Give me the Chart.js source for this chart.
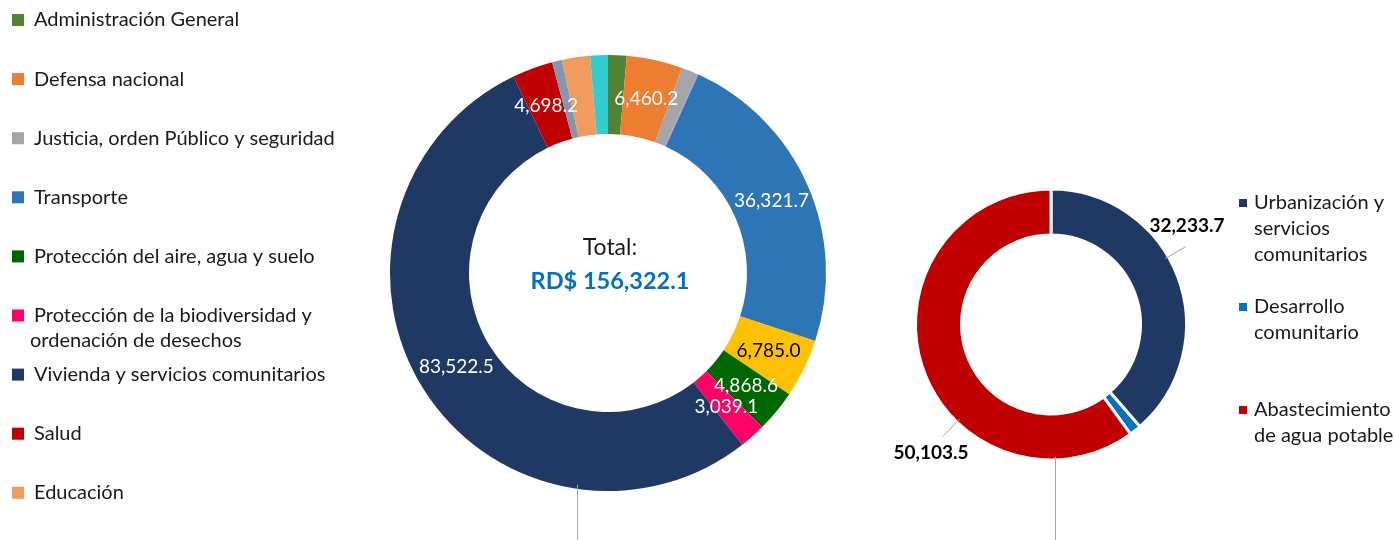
<!DOCTYPE html>
<html>
<head>
<meta charset="utf-8">
<script src="https://cdn.jsdelivr.net/npm/chart.js@4"></script>
<style>
  body { margin: 0; background: #fff; }
  canvas { position: absolute; left: 0; top: 0; }
</style>
</head>
<body>
<canvas id="porFuncion" width="1395" height="540"></canvas>
<canvas id="porVivienda" width="1395" height="540"></canvas>
<script>
// millones de RD$, en el orden de las porciones (sentido horario desde arriba)
const funciones = [
  'Administración General',
  'Defensa nacional',
  'Justicia, orden Público y seguridad',
  'Agropecuaria, caza, pesca y silvicultura',
  'Comunicaciones',
  'Transporte',
  'Riego',
  'Protección del aire, agua y suelo',
  'Protección de la biodiversidad y\nordenación de desechos',
  'Vivienda y servicios comunitarios',
  'Salud',
  'Deporte, recreación, cultura y religión',
  'Educación',
  'Asistencia social'
];
const montosFuncion = [2150, 6460.2, 1850, 100, 76.8, 36321.7, 6785.0, 4868.6, 3039.1, 83522.5, 4698.2, 1150, 3250, 2050];
const coloresFuncion = ['#548235', '#ED7D31', '#A5A5A5', '#5B9BD5', '#FF66CC', '#2E75B6', '#FFC000',
  '#006600', '#FF0066', '#203864', '#C00000', '#8497B0', '#F19B5E', '#33CCCC'];
// porciones con su monto escrito y las que aparecen en la leyenda
const conEtiqueta = [1, 5, 6, 7, 8, 9, 10];
const enLeyenda = [0, 1, 2, 5, 7, 8, 9, 10, 12];

const subfunciones = ['Urbanización y\nservicios\ncomunitarios', 'Desarrollo\ncomunitario', 'Abastecimiento\nde agua potable'];
const montosVivienda = [32233.7, 1185.3, 50103.5];
const coloresVivienda = ['#1F3864', '#0070C0', '#C00000'];

const fmt = v => v.toLocaleString('en-US', { minimumFractionDigits: 1, maximumFractionDigits: 1 });
const FUENTE = 'Lato, "Open Sans", sans-serif';
const TEXTO = '#1a1a1a';
const GUIA = '#A6A6A6';

function lineaGuia(ctx, arc, grados, r1, r2) {
  const a = (grados - 90) * Math.PI / 180;
  ctx.beginPath();
  ctx.moveTo(arc.x + r1 * Math.cos(a), arc.y + r1 * Math.sin(a));
  ctx.lineTo(arc.x + r2 * Math.cos(a), arc.y + r2 * Math.sin(a));
  ctx.stroke();
}

const dibujoFuncion = {
  id: 'dibujoFuncion',
  afterDatasetsDraw(chart) {
    const ctx = chart.ctx;
    const arcos = chart.getDatasetMeta(0).data;
    ctx.save();
    ctx.textAlign = 'center';
    ctx.textBaseline = 'middle';
    ctx.font = '19px ' + FUENTE;
    conEtiqueta.forEach(i => {
      const p = arcos[i].getCenterPoint();
      ctx.fillStyle = coloresFuncion[i] === '#FFC000' ? '#000' : '#fff';
      ctx.fillText(fmt(montosFuncion[i]), p.x, p.y);
    });

    // total al centro
    const c = arcos[0];
    const total = montosFuncion.reduce((a, b) => a + b, 0);
    ctx.fillStyle = TEXTO;
    ctx.font = '23px ' + FUENTE;
    ctx.fillText('Total:', c.x + 2, c.y - 25);
    ctx.fillStyle = '#0070C0';
    ctx.font = 'bold 23.5px ' + FUENTE;
    ctx.fillText('RD$ ' + fmt(total), c.x + 2, c.y + 8);

    // guía hacia etiqueta fuera del cuadro
    ctx.strokeStyle = GUIA;
    ctx.lineWidth = 1;
    const a = (188.2 - 90) * Math.PI / 180;
    const x = Math.round(c.x + c.outerRadius * Math.cos(a)) + 0.5;
    ctx.beginPath();
    ctx.moveTo(x, c.y + c.outerRadius * Math.sin(a) - 4);
    ctx.lineTo(x, chart.height);
    ctx.stroke();

    // leyenda
    ctx.textAlign = 'left';
    ctx.font = '20px ' + FUENTE;
    enLeyenda.forEach((i, k) => {
      const y = 20 + k * 59.1;
      ctx.fillStyle = coloresFuncion[i];
      ctx.fillRect(12, y - 6, 12, 12);
      ctx.fillStyle = TEXTO;
      funciones[i].split('\n').forEach((t, j) => {
        ctx.fillText(t, j ? 30 : 34, y + j * 25.5);
      });
    });
    ctx.restore();
  }
};

const dibujoVivienda = {
  id: 'dibujoVivienda',
  afterDatasetsDraw(chart) {
    const ctx = chart.ctx;
    const arcos = chart.getDatasetMeta(0).data;
    const c = arcos[0];
    const R = c.outerRadius;
    ctx.save();
    ctx.strokeStyle = GUIA;
    ctx.lineWidth = 1;
    ctx.fillStyle = '#000';
    ctx.font = 'bold 19px ' + FUENTE;
    ctx.textAlign = 'center';
    ctx.textBaseline = 'middle';
    // etiquetas con guía: [porción, ángulo guía, ángulo texto, radio texto]
    [[0, 60, 54, 168], [2, 224, 223, 176]].forEach(([i, g, ga, gr]) => {
      lineaGuia(ctx, c, g, R - 4, R + 20);
      const a = (ga - 90) * Math.PI / 180;
      ctx.fillText(fmt(montosVivienda[i]), c.x + gr * Math.cos(a), c.y + gr * Math.sin(a));
    });
    const a = (178.1 - 90) * Math.PI / 180;
    const x = Math.round(c.x + R * Math.cos(a)) + 0.5;
    ctx.beginPath();
    ctx.moveTo(x, c.y + R * Math.sin(a) - 3);
    ctx.lineTo(x, chart.height);
    ctx.stroke();

    // leyenda
    ctx.textAlign = 'left';
    ctx.font = '20px ' + FUENTE;
    [203, 307, 410].forEach((y, k) => {
      ctx.fillStyle = coloresVivienda[k];
      ctx.fillRect(1239, y - 4, 8, 8);
      ctx.fillStyle = TEXTO;
      subfunciones[k].split('\n').forEach((t, j) => ctx.fillText(t, 1254, y + j * 25.8));
    });
    ctx.restore();
  }
};

new Chart(document.getElementById('porFuncion'), {
  type: 'doughnut',
  data: {
    labels: funciones.map(f => f.replace('\n', ' ')),
    datasets: [{
      data: montosFuncion,
      backgroundColor: coloresFuncion,
      borderWidth: 0,
      hoverOffset: 0
    }]
  },
  options: {
    responsive: false,
    animation: false,
    radius: 218,
    cutout: 139,
    layout: { padding: { left: 390, right: 569, top: 55, bottom: 49 } },
    plugins: { legend: { display: false }, tooltip: { enabled: false } }
  },
  plugins: [dibujoFuncion]
});

new Chart(document.getElementById('porVivienda'), {
  type: 'doughnut',
  data: {
    labels: subfunciones.map(f => f.replace(/\n/g, ' ')),
    datasets: [{
      data: montosVivienda,
      backgroundColor: coloresVivienda,
      borderColor: '#fff',
      borderWidth: 3,
      hoverOffset: 0
    }]
  },
  options: {
    responsive: false,
    animation: false,
    radius: 135.5,
    cutout: 87.5,
    layout: { padding: { left: 917, right: 210, top: 190.5, bottom: 81.5 } },
    plugins: { legend: { display: false }, tooltip: { enabled: false } }
  },
  plugins: [dibujoVivienda]
});
</script>
</body>
</html>
